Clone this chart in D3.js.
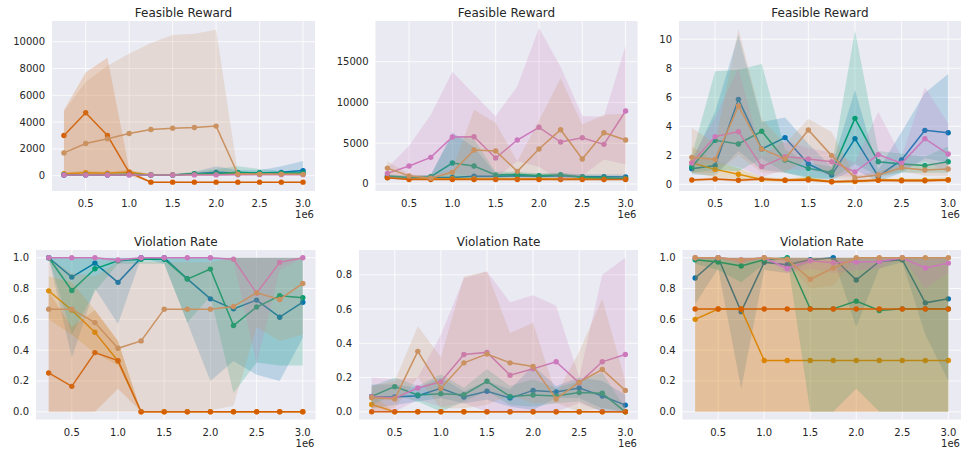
<!DOCTYPE html>
<html>
<head>
<meta charset="utf-8">
<script src="https://d3js.org/d3.v7.min.js"></script>
<style>
  body { margin: 0; background: #fff; }
  svg text { font-family: "DejaVu Sans", sans-serif; fill: #262626; }
</style>
</head>
<body>
<div id="chart"></div>
<script>
// x positions (environment steps)
const steps = [0.25e6, 0.5e6, 0.75e6, 1.0e6, 1.25e6, 1.5e6, 1.75e6, 2.0e6, 2.25e6, 2.5e6, 2.75e6, 3.0e6];
const xTicks = [0.5e6, 1.0e6, 1.5e6, 2.0e6, 2.5e6, 3.0e6];
const titles = ["Feasible Reward", "Feasible Reward", "Feasible Reward", "Violation Rate", "Violation Rate", "Violation Rate"];
// series order: blue, orange, green, red, pink, brown
const colors = ["#0173b2", "#de8f05", "#029e73", "#d55e00", "#cc78bc", "#ca9161"];

// panel 1 - reward
const p1Mean = [
  [50, 60, 60, 80, 60, 60, 150, 250, 200, 200, 250, 380],
  [150, 220, 180, 280, 50, 50, 100, 100, 120, 120, 120, 150],
  [80, 80, 80, 100, 60, 60, 150, 150, 250, 200, 200, 200],
  [3000, 4700, 3000, 250, -480, -480, -480, -480, -480, -480, -480, -480],
  [50, 50, 50, 60, 50, 50, 60, 60, 70, 80, 80, 80],
  [1700, 2400, 2750, 3150, 3450, 3550, 3600, 3700, 120, 120, 120, 100]
];
const p1Lo = [
  [20, 30, 30, 40, 30, 30, 60, 60, 60, 80, 80, 60],
  [60, 100, 80, 120, 20, 20, 50, 50, 60, 60, 60, 60],
  [40, 40, 40, 50, 30, 30, 60, 60, 60, 60, 80, 80],
  [0, 100, 0, 0, -500, -500, -500, -500, -500, -500, -500, -500],
  [30, 30, 30, 40, 30, 30, 40, 40, 40, 50, 50, 50],
  [0, 0, 0, 0, 0, 0, 0, 0, 60, 60, 60, 50]
];
const p1Hi = [
  [80, 100, 100, 150, 100, 100, 300, 700, 400, 400, 700, 1100],
  [250, 380, 300, 450, 100, 100, 160, 160, 200, 200, 200, 250],
  [120, 120, 120, 200, 100, 100, 250, 500, 700, 500, 350, 350],
  [4900, 7700, 8800, 500, -460, -460, -460, -460, -460, -460, -460, -460],
  [70, 70, 70, 80, 70, 70, 80, 80, 100, 110, 110, 110],
  [4800, 7000, 8200, 9100, 9900, 10500, 10600, 10900, 200, 200, 200, 150]
];

// panel 2 - reward
const p2Mean = [
  [800, 750, 800, 800, 950, 950, 1000, 950, 1000, 900, 900, 850],
  [850, 700, 650, 650, 650, 650, 650, 650, 650, 650, 650, 650],
  [980, 800, 900, 2570, 2200, 1100, 1180, 1020, 1140, 820, 740, 610],
  [750, 550, 550, 550, 550, 550, 550, 550, 550, 550, 550, 550],
  [1300, 2200, 3270, 5760, 5800, 3190, 5390, 6950, 5150, 5680, 4860, 8950],
  [1950, 1000, 700, 1430, 4170, 4050, 1550, 4290, 6660, 3070, 6290, 5400]
];
const p2Lo = [
  [600, 550, 600, 600, 700, 700, 750, 700, 750, 650, 650, 600],
  [650, 550, 500, 500, 500, 500, 500, 500, 500, 500, 500, 500],
  [800, 600, 700, 800, 700, 800, 900, 800, 900, 600, 550, 450],
  [650, 500, 500, 500, 500, 500, 500, 500, 500, 500, 500, 500],
  [700, 600, 600, 1500, 800, 700, 2800, 2100, 400, 1000, 3000, 2400],
  [900, 600, 500, 600, 500, 500, 500, 700, 300, 500, 400, 500]
];
const p2Hi = [
  [1100, 1000, 1100, 6300, 4500, 1300, 1300, 1250, 1300, 1200, 1200, 1150],
  [1050, 850, 800, 800, 800, 800, 800, 800, 800, 800, 800, 800],
  [1200, 1000, 1100, 6000, 5500, 1500, 1500, 1300, 1400, 1100, 1000, 850],
  [850, 600, 600, 600, 600, 600, 600, 600, 600, 600, 600, 600],
  [2000, 4700, 8460, 13770, 11000, 8300, 12000, 19130, 14390, 8340, 8260, 16960],
  [2800, 1200, 1000, 1800, 9100, 7500, 2800, 7800, 13000, 7300, 8500, 8600]
];

// panel 3 - reward
const p3Mean = [
  [1.08, 1.29, 5.86, 2.44, 3.22, 1.40, 0.64, 3.15, 0.55, 1.68, 3.72, 3.56],
  [1.49, 1.03, 0.69, 0.34, 0.28, 0.39, 0.18, 0.20, 0.30, 0.30, 0.30, 0.32],
  [1.22, 3.03, 2.78, 3.66, 1.68, 1.10, 0.83, 4.55, 1.56, 1.40, 1.29, 1.56],
  [0.30, 0.37, 0.28, 0.37, 0.28, 0.30, 0.18, 0.23, 0.28, 0.25, 0.25, 0.30],
  [1.47, 3.29, 3.63, 1.22, 1.91, 1.75, 1.56, 0.85, 2.05, 1.45, 3.15, 2.09],
  [1.86, 1.72, 5.40, 2.44, 1.75, 3.75, 1.98, 0.46, 0.64, 1.15, 0.99, 1.06]
];
const p3Lo = [
  [0.7, 0.6, 2.3, 1.0, 0.8, 0.5, 0.3, 1.0, 0.2, 0.8, 1.8, 1.5],
  [0.8, 0.5, 0.4, 0.2, 0.2, 0.3, 0.1, 0.1, 0.2, 0.2, 0.2, 0.2],
  [0.8, 1.0, 0.9, 1.8, 0.8, 0.4, 0.4, 1.4, 0.6, 0.8, 0.8, 0.8],
  [0.2, 0.27, 0.18, 0.27, 0.18, 0.2, 0.1, 0.13, 0.18, 0.15, 0.15, 0.2],
  [1.2, 1.5, 1.2, 0.5, 1.0, 1.0, 0.6, 0.5, 0.6, 1.0, 1.6, 0.8],
  [0.8, 0.8, 2.0, 0.8, 0.8, 1.8, 0.4, 0.3, 0.4, 0.9, 0.6, 0.6]
];
const p3Hi = [
  [1.6, 5.0, 10.3, 4.3, 4.6, 2.8, 1.2, 6.5, 1.0, 3.6, 6.3, 7.6],
  [2.6, 1.6, 1.1, 0.5, 0.4, 0.5, 0.3, 0.3, 0.4, 0.4, 0.4, 0.5],
  [2.0, 7.8, 7.9, 8.3, 2.4, 1.5, 1.2, 10.6, 2.3, 2.1, 1.9, 2.6],
  [0.4, 0.47, 0.38, 0.47, 0.38, 0.4, 0.28, 0.33, 0.38, 0.35, 0.35, 0.4],
  [1.8, 4.6, 8.0, 2.0, 3.0, 2.5, 2.2, 1.5, 5.0, 1.9, 6.7, 4.2],
  [3.9, 2.8, 10.7, 4.5, 2.8, 4.5, 3.6, 0.6, 0.9, 1.4, 1.4, 1.5]
];

// panel 4 - violation rate
const p4Mean = [
  [1.0, 0.874, 0.965, 0.84, 1.0, 1.0, 0.863, 0.733, 0.668, 0.725, 0.614, 0.711],
  [0.785, 0.66, 0.516, 0.33, 0, 0, 0, 0, 0, 0, 0, 0],
  [1.0, 0.787, 0.928, 0.98, 0.99, 0.99, 0.861, 0.926, 0.56, 0.68, 0.753, 0.74],
  [0.252, 0.165, 0.384, 0.332, 0, 0, 0, 0, 0, 0, 0, 0],
  [1.0, 1.0, 1.0, 0.985, 1.0, 1.0, 1.0, 1.0, 0.99, 0.77, 0.97, 1.0],
  [0.666, 0.666, 0.579, 0.412, 0.46, 0.666, 0.666, 0.666, 0.683, 0.772, 0.729, 0.833]
];
const p4Lo = [
  [1.0, 0.35, 0.8, 0.57, 1.0, 0.96, 0.58, 0.2, 0.33, 0.24, 0.2, 0.48],
  [0.6, 0.5, 0.38, 0.3, 0, 0, 0, 0, 0, 0, 0, 0],
  [1.0, 0.5, 0.78, 0.96, 0.96, 0.96, 0.58, 0.75, 0.12, 0.32, 0.3, 0.3],
  [0, 0, 0, 0.15, 0, 0, 0, 0, 0, 0, 0, 0],
  [1.0, 1.0, 1.0, 0.96, 1.0, 1.0, 1.0, 1.0, 0.98, 0.31, 0.92, 1.0],
  [0, 0, 0, 0, 0, 0, 0, 0.01, 0.04, 0.55, 0.46, 0.5]
];
const p4Hi = [
  [1, 1, 1, 1, 1, 1, 1, 1, 1, 1, 1, 1],
  [0.88, 0.84, 0.66, 0.46, 0, 0, 0, 0, 0, 0, 0, 0],
  [1, 1, 1, 1, 1, 1, 1, 1, 1, 1, 1, 1],
  [0.78, 0.55, 0.66, 0.46, 0, 0, 0, 0, 0, 0, 0, 0],
  [1, 1, 1, 1, 1, 1, 1, 1, 1, 1, 1, 1],
  [1.0, 0.9, 0.88, 0.97, 0.97, 0.97, 0.97, 0.97, 1.0, 1.0, 1.0, 1.0]
];

// panel 5 - violation rate
const p5Mean = [
  [0.088, 0.086, 0.094, 0.137, 0.086, 0.12, 0.08, 0.125, 0.116, 0.139, 0.092, 0.039],
  [0.043, 0, 0, 0, 0, 0, 0, 0, 0, 0, 0, 0],
  [0.09, 0.147, 0.098, 0.106, 0.1, 0.178, 0.09, 0.098, 0.092, 0.112, 0.108, 0],
  [0, 0, 0, 0, 0, 0, 0, 0, 0, 0, 0, 0],
  [0.088, 0.08, 0.139, 0.175, 0.335, 0.347, 0.214, 0.251, 0.292, 0.169, 0.292, 0.335],
  [0.082, 0.075, 0.353, 0.137, 0.286, 0.337, 0.286, 0.265, 0.075, 0.173, 0.247, 0.125]
];
const p5Lo = [
  [0.02, 0.04, 0.06, 0.08, 0.05, 0.07, 0.03, 0.01, 0.08, 0.08, 0.02, 0],
  [0, 0, 0, 0, 0, 0, 0, 0, 0, 0, 0, 0],
  [0.04, 0.1, 0.06, 0, 0.06, 0.12, 0.04, 0.03, 0.05, 0.06, 0, 0],
  [0, 0, 0, 0, 0, 0, 0, 0, 0, 0, 0, 0],
  [0, 0, 0.07, 0.03, 0.05, 0, 0, 0, 0, 0.05, 0, 0],
  [0.02, 0.02, 0.2, 0.02, 0.02, 0.04, 0.1, 0.05, 0.05, 0, 0.02, 0]
];
const p5Hi = [
  [0.16, 0.16, 0.14, 0.2, 0.12, 0.18, 0.13, 0.27, 0.15, 0.2, 0.18, 0.1],
  [0.1, 0, 0, 0, 0, 0, 0, 0, 0, 0, 0, 0],
  [0.15, 0.2, 0.15, 0.22, 0.14, 0.25, 0.15, 0.19, 0.14, 0.18, 0.23, 0.02],
  [0, 0, 0, 0, 0, 0, 0, 0, 0, 0, 0, 0],
  [0.2, 0.19, 0.2, 0.45, 0.78, 0.82, 0.64, 0.68, 0.62, 0.2, 0.8, 0.9],
  [0.15, 0.18, 0.5, 0.32, 0.79, 0.82, 0.46, 0.52, 0.1, 0.35, 0.66, 0.18]
];

// panel 6 - violation rate
const p6Mean = [
  [0.868, 1.0, 0.65, 0.97, 0.954, 0.987, 1.0, 0.855, 0.976, 0.987, 0.707, 0.733],
  [0.6, 0.667, 0.667, 0.333, 0.333, 0.333, 0.333, 0.333, 0.333, 0.333, 0.333, 0.333],
  [0.987, 0.972, 0.946, 0.987, 1.0, 0.668, 0.668, 0.718, 0.657, 0.668, 0.668, 0.668],
  [0.667, 0.667, 0.667, 0.667, 0.667, 0.667, 0.667, 0.667, 0.667, 0.667, 0.667, 0.667],
  [1.0, 1.0, 0.985, 1.0, 0.93, 0.98, 0.967, 0.972, 0.976, 1.0, 0.933, 0.965],
  [1.0, 1.0, 0.985, 1.0, 0.99, 0.86, 0.933, 1.0, 1.0, 1.0, 1.0, 1.0]
];
const p6Lo = [
  [0.7, 0.93, 0.15, 0.92, 0.9, 0.97, 1.0, 0.55, 0.93, 0.97, 0.5, 0.2],
  [0, 0, 0, 0, 0, 0, 0, 0, 0, 0, 0, 0],
  [0.96, 0.92, 0.84, 0.96, 1.0, 0, 0, 0.15, 0, 0, 0, 0],
  [0, 0, 0, 0, 0, 0, 0, 0, 0, 0, 0, 0],
  [1, 1, 0.96, 1, 0.9, 0.93, 0.9, 0.92, 0.93, 1, 0.8, 0.9],
  [1, 1, 0.96, 1, 0.97, 0.8, 0.82, 1, 1, 1, 1, 1]
];
const p6Hi = [
  [1, 1, 1, 1, 1, 1, 1, 1, 1, 1, 1, 1],
  [1, 1, 1, 1, 1, 1, 1, 1, 1, 1, 1, 1],
  [1, 1, 1, 1, 1, 1, 1, 1, 1, 1, 1, 1],
  [1, 1, 1, 1, 1, 1, 1, 1, 1, 1, 1, 1],
  [1, 1, 1, 1, 1, 1, 1, 1, 1, 1, 1, 1],
  [1, 1, 1, 1, 1, 1, 1, 1, 1, 1, 1, 1]
];

const yTickSets = [
  [0, 2000, 4000, 6000, 8000, 10000],
  [0, 5000, 10000, 15000],
  [0, 2, 4, 6, 8, 10],
  [0, 0.2, 0.4, 0.6, 0.8, 1.0],
  [0, 0.2, 0.4, 0.6, 0.8],
  [0, 0.2, 0.4, 0.6, 0.8, 1.0]
];
const yDomains = [[-1142, 11545], [-860, 19990], [-0.46, 11.26], [-0.05, 1.05], [-0.045, 0.945], [-0.05, 1.05]];

// layout: plot rectangles [left, right, top, bottom]
const boxes = [
  [52, 315, 21, 191], [375.5, 637.5, 21, 191], [679, 961, 21, 191],
  [36, 315.5, 250, 419.5], [359, 638, 250, 419.5], [682.5, 961, 250, 419.5]
];
const means = [p1Mean, p2Mean, p3Mean, p4Mean, p5Mean, p6Mean];
const los = [p1Lo, p2Lo, p3Lo, p4Lo, p5Lo, p6Lo];
const his = [p1Hi, p2Hi, p3Hi, p4Hi, p5Hi, p6Hi];
const yFormats = [d3.format("d"), d3.format("d"), d3.format("d"), d3.format(".1f"), d3.format(".1f"), d3.format(".1f")];

const width = 961, height = 453;
const svg = d3.select("#chart").append("svg")
  .attr("width", width).attr("height", height);

boxes.forEach((b, p) => {
  const [x0, x1, y0, y1] = b;
  const x = d3.scaleLinear().domain([0.1125e6, 3.1375e6]).range([x0, x1]);
  const y = d3.scaleLinear().domain(yDomains[p]).range([y1, y0]);
  const g = svg.append("g");

  g.append("rect").attr("x", x0).attr("y", y0)
    .attr("width", x1 - x0).attr("height", y1 - y0).attr("fill", "#eaeaf2");

  g.append("clipPath").attr("id", "clip" + p)
    .append("rect").attr("x", x0).attr("y", y0)
    .attr("width", x1 - x0).attr("height", y1 - y0);

  // grid
  g.selectAll(".gx").data(xTicks).enter().append("line")
    .attr("x1", d => x(d)).attr("x2", d => x(d))
    .attr("y1", y0).attr("y2", y1)
    .attr("stroke", "#fff").attr("stroke-width", 0.8);
  g.selectAll(".gy").data(yTickSets[p]).enter().append("line")
    .attr("x1", x0).attr("x2", x1)
    .attr("y1", d => y(d)).attr("y2", d => y(d))
    .attr("stroke", "#fff").attr("stroke-width", 0.8);

  // tick labels
  g.selectAll(".ty").data(yTickSets[p]).enter().append("text")
    .attr("x", x0 - 7).attr("y", d => y(d)).attr("dy", "0.35em")
    .attr("text-anchor", "end").attr("font-size", 10)
    .text(d => yFormats[p](d));
  g.selectAll(".tx").data(xTicks).enter().append("text")
    .attr("x", d => x(d)).attr("y", y1 + 16)
    .attr("text-anchor", "middle").attr("font-size", 10)
    .text(d => (d / 1e6).toFixed(1));
  g.append("text").attr("x", x1 - 1).attr("y", y1 + 27)
    .attr("text-anchor", "end").attr("font-size", 10).text("1e6");
  g.append("text").attr("x", (x0 + x1) / 2).attr("y", y0 - 4)
    .attr("text-anchor", "middle").attr("font-size", 12).text(titles[p]);

  const plot = g.append("g").attr("clip-path", `url(#clip${p})`);
  const area = d3.area().x(d => x(d.s)).y0(d => y(d.lo)).y1(d => y(d.hi));
  const line = d3.line().x(d => x(d.s)).y(d => y(d.m));

  colors.forEach((c, i) => {
    const pts = steps.map((s, k) => ({ s, m: means[p][i][k], lo: los[p][i][k], hi: his[p][i][k] }));
    plot.append("path").datum(pts).attr("d", area)
      .attr("fill", c).attr("fill-opacity", 0.2).attr("stroke", "none");
    plot.append("path").datum(pts).attr("d", line)
      .attr("fill", "none").attr("stroke", c).attr("stroke-width", 1.5);
    plot.selectAll(null).data(pts).enter().append("circle")
      .attr("cx", d => x(d.s)).attr("cy", d => y(d.m)).attr("r", 2.7)
      .attr("fill", c);
  });
});
</script>
</body>
</html>
